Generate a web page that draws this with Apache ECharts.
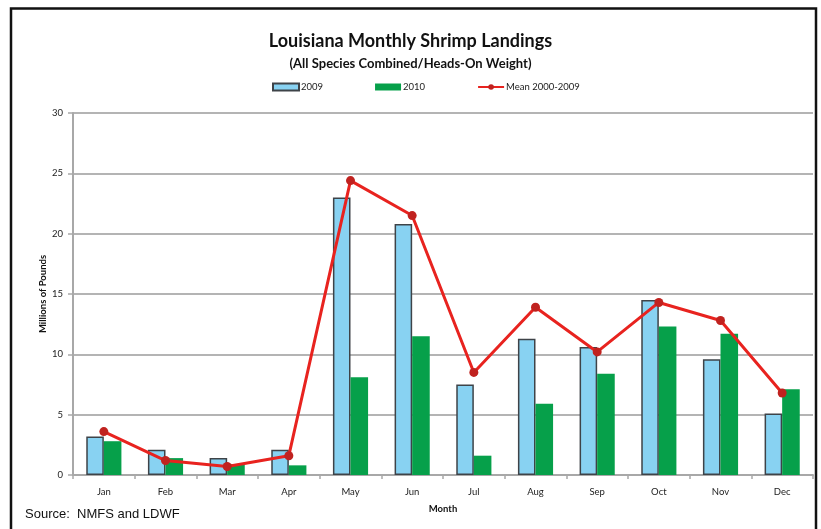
<!DOCTYPE html>
<html>
<head>
<meta charset="utf-8">
<script src="https://cdn.jsdelivr.net/npm/echarts@6/dist/echarts.min.js"></script>
<style>
  html, body { margin: 0; padding: 0; background: #fff; }
  #chart { width: 821px; height: 529px; }
</style>
</head>
<body>
<div id="chart"></div>
<script>
// Monthly Louisiana shrimp landings, millions of pounds
const months = ['Jan', 'Feb', 'Mar', 'Apr', 'May', 'Jun', 'Jul', 'Aug', 'Sep', 'Oct', 'Nov', 'Dec'];
const landings2009 = [3.2, 2.1, 1.4, 2.1, 23.0, 20.8, 7.5, 11.3, 10.6, 14.5, 9.6, 5.1];
const landings2010 = [2.8, 1.4, 0.9, 0.8, 8.1, 11.5, 1.6, 5.9, 8.4, 12.3, 11.7, 7.1];
const mean2000to2009 = [3.6, 1.2, 0.7, 1.6, 24.4, 21.5, 8.5, 13.9, 10.2, 14.3, 12.8, 6.8];
const yTicks = { min: 0, max: 30, interval: 5 };

const chart = echarts.init(document.getElementById('chart'), null, { renderer: 'canvas' });

const labelFont = 'Lato, "Open Sans", sans-serif';

chart.setOption({
  backgroundColor: '#ffffff',
  animation: false,
  title: [
    {
      text: 'Louisiana Monthly Shrimp Landings',
      left: 'center', top: 27,
      textStyle: { fontFamily: labelFont, fontWeight: 'bold', fontSize: 18, color: '#111' }
    },
    {
      text: '(All Species Combined/Heads-On Weight)',
      left: 'center', top: 52,
      textStyle: { fontFamily: labelFont, fontWeight: 'bold', fontSize: 13, color: '#111' }
    }
  ],
  legend: {
    top: 77, left: 267,
    itemWidth: 26, itemHeight: 7, itemGap: 52,
    textStyle: { fontFamily: labelFont, fontSize: 9.5, color: '#222', padding: [0, 0, 0, -3] },
    data: [
      { name: '2009', icon: 'rect' },
      { name: '2010', icon: 'rect' },
      { name: 'Mean 2000-2009' }
    ]
  },
  grid: { left: 73, right: 8, top: 113, bottom: 54, containLabel: false },
  xAxis: {
    type: 'category',
    data: months,
    name: 'Month',
    nameLocation: 'middle',
    nameGap: 29,
    nameMoveOverlap: false,
    nameTextStyle: { fontFamily: labelFont, fontWeight: 'bold', fontSize: 9.5, color: '#111' },
    axisLine: { lineStyle: { color: '#a8a8a8', width: 2 } },
    axisTick: { show: true, length: 4, lineStyle: { color: '#a8a8a8', width: 1.5 } },
    axisLabel: { fontFamily: labelFont, fontSize: 9.5, color: '#222', margin: 12 }
  },
  yAxis: {
    type: 'value',
    min: yTicks.min, max: yTicks.max, interval: yTicks.interval,
    name: 'Millions of Pounds',
    nameLocation: 'middle',
    nameRotate: 90,
    nameGap: 25,
    nameMoveOverlap: false,
    nameTextStyle: { fontFamily: labelFont, fontWeight: 'bold', fontSize: 9.5, color: '#111' },
    axisLine: { show: true, lineStyle: { color: '#a8a8a8', width: 2 } },
    axisTick: { show: true, length: 5, lineStyle: { color: '#a8a8a8', width: 1.5 } },
    axisLabel: { fontFamily: labelFont, fontSize: 9.5, color: '#222', margin: 10 },
    splitLine: { lineStyle: { color: '#b4b4b4', width: 2 } }
  },
  series: [
    {
      name: '2009',
      type: 'bar',
      data: landings2009,
      barGap: '0%',
      barCategoryGap: '43%',
      itemStyle: { color: '#88d2f2', borderColor: '#3e4348', borderWidth: 1.5 }
    },
    {
      name: '2010',
      type: 'bar',
      data: landings2010,
      itemStyle: { color: '#06a04a' }
    },
    {
      name: 'Mean 2000-2009',
      type: 'line',
      data: mean2000to2009,
      symbol: 'circle',
      symbolSize: 9,
      lineStyle: { color: '#e8231f', width: 3 },
      itemStyle: { color: '#c0221f' },
      z: 5
    }
  ],
  graphic: [
    {
      type: 'polyline',
      shape: { points: [[11, 540], [11, 8.5], [816, 8.5], [816, 540]] },
      style: { stroke: '#111', lineWidth: 2.5, fill: null },
      silent: true
    },
    {
      type: 'text',
      left: 25, top: 508,
      style: {
        text: 'Source:  NMFS and LDWF',
        font: '13px "Liberation Sans", Arial, sans-serif',
        fill: '#111'
      }
    }
  ]
});
</script>
</body>
</html>
